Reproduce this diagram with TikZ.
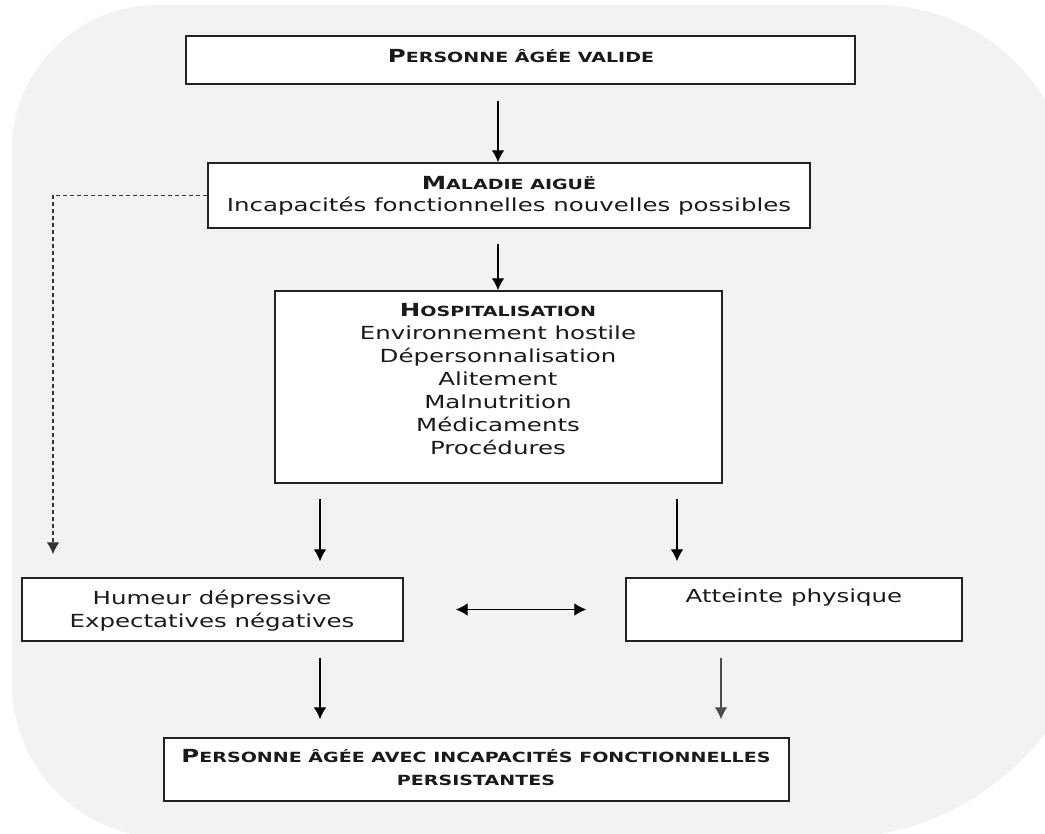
\documentclass[tikz,border=0pt]{standalone}
\usepackage{fontspec}
\setmainfont{DejaVu Sans}[FakeStretch=1.36]
\usetikzlibrary{arrows.meta}
\definecolor{bggray}{HTML}{F2F2F2}
\definecolor{edge}{HTML}{222222}
\definecolor{txtc}{HTML}{1A1A1A}
\newcommand\sck[2]{{\bfseries\fontsize{13.5}{17.25}\selectfont #1\fontsize{10.5}{17.25}\selectfont #2}}
\begin{document}
\begin{tikzpicture}[x=0.75pt,y=-0.75pt,
  box/.style={draw=edge, line width=1.1pt, fill=white, inner sep=0pt},
  txt/.style={font=\fontsize{13.5}{17.25}\selectfont, align=center, inner sep=0pt, text=txtc},
  arr/.style={draw=black, line width=0.9pt, -{Latex[length=9pt,width=9.5pt]}},
]
\useasboundingbox (0,0) rectangle (1045,833);
\clip (0,0) rectangle (1045,833);
% background
\fill[bggray] (12,150) .. controls (12,70) and (77,5) .. (157,5)
  -- (878,5) .. controls (985,5) and (1072,92) .. (1072,199)
  -- (1099,573) .. controls (1099,719) and (980,838) .. (834,838)
  -- (167,838) .. controls (81,838) and (12,769) .. (12,683) -- cycle;

% boxes
\node[box, minimum width=501.75pt, minimum height=36pt] (b1) at (520.5,60) {};
\node[box, minimum width=451.5pt, minimum height=48.75pt] (b2) at (509,195.5) {};
\node[box, minimum width=335.25pt, minimum height=144pt] (b3) at (498.5,387) {};
\node[box, minimum width=285.75pt, minimum height=47.25pt] (b4) at (212.5,609.5) {};
\node[box, minimum width=252pt, minimum height=47.25pt] (b5) at (794,609.5) {};
\node[box, minimum width=468.75pt, minimum height=47.25pt] (b6) at (476.5,769.5) {};

% texts
\node[txt] (t1) at (521,56) {\sck{P}{ERSONNE ÂGÉE VALIDE}};
\node[txt] (t2a) at (509,183) {\sck{M}{ALADIE AIGUË}};
\node[txt] (t2b) at (509,206) {Incapacités fonctionnelles nouvelles possibles};
\node[txt] (t3) at (498,379) {\sck{H}{OSPITALISATION}\\Environnement hostile\\Dépersonnalisation\\Alitement\\Malnutrition\\Médicaments\\Procédures};
\node[txt] (t4) at (212,611) {Humeur dépressive\\Expectatives négatives};
\node[txt] (t5) at (794,598) {Atteinte physique};
\node[txt] (t6) at (476,768) {\sck{P}{ERSONNE ÂGÉE AVEC INCAPACITÉS FONCTIONNELLES}\\\sck{}{PERSISTANTES}};

% arrow columns
\coordinate (xa) at (498,0);
\coordinate (xl) at (320,0);
\coordinate (xr) at (677,0);
\coordinate (xr2) at (721,0);
\coordinate (xd) at (53,0);

\draw[arr, shorten <=12pt] (b1.south -| xa) -- (b2.north -| xa);
\draw[arr, shorten <=11.25pt] (b2.south -| xa) -- (b3.north -| xa);
\draw[arr, shorten <=11.25pt, shorten >=12pt] (b3.south -| xl) -- (b4.north -| xl);
\draw[arr, shorten <=11.25pt, shorten >=12pt] (b3.south -| xr) -- (b5.north -| xr);
\draw[arr, {Latex[length=9pt,width=9.5pt]}-{Latex[length=9pt,width=9.5pt]}, shorten <=39pt, shorten >=29.25pt] (b4.east) -- (b5.west);
\draw[arr, shorten <=12pt, shorten >=13.5pt] (b4.south -| xl) -- (b6.north -| xl);
\draw[arr, draw=black!70, shorten <=12pt, shorten >=13.5pt] (b5.south -| xr2) -- (b6.north -| xr2);
\draw[arr, draw=black!80, dash pattern=on 3pt off 2.25pt, shorten >=17.25pt] (b2.west) -| (b4.north -| xd);
\end{tikzpicture}
\end{document}
